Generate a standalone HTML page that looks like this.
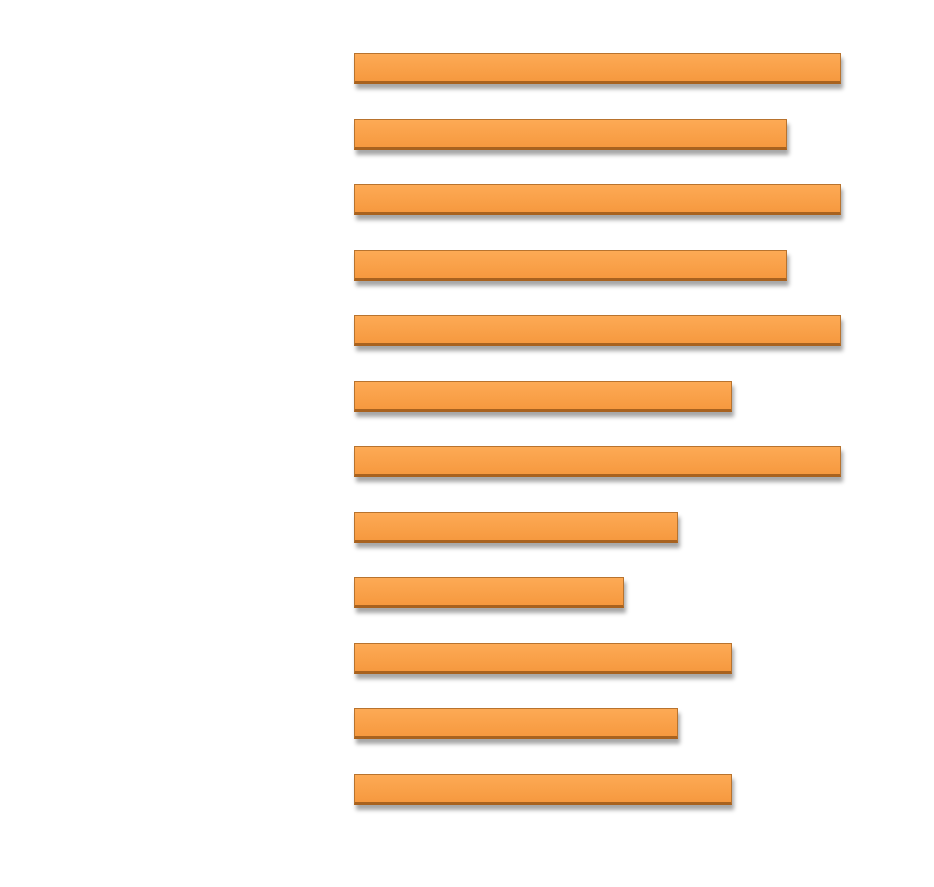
<!DOCTYPE html><html><head><style>
body{margin:0;width:934px;height:887px;background:#fff;position:relative;overflow:hidden}
.b{position:absolute;left:354px;height:31px;box-sizing:border-box;border:1px solid #b8732e;border-bottom:3px solid #a8621f;background:linear-gradient(#fdaa55,#f6993f);box-shadow:2px 5px 4px rgba(0,0,0,.35)}
</style></head><body>
<div class="b" style="top:53px;width:487px"></div>
<div class="b" style="top:119px;width:433px"></div>
<div class="b" style="top:184px;width:487px"></div>
<div class="b" style="top:250px;width:433px"></div>
<div class="b" style="top:315px;width:487px"></div>
<div class="b" style="top:381px;width:378px"></div>
<div class="b" style="top:446px;width:487px"></div>
<div class="b" style="top:512px;width:324px"></div>
<div class="b" style="top:577px;width:270px"></div>
<div class="b" style="top:643px;width:378px"></div>
<div class="b" style="top:708px;width:324px"></div>
<div class="b" style="top:774px;width:378px"></div>
</body></html>
